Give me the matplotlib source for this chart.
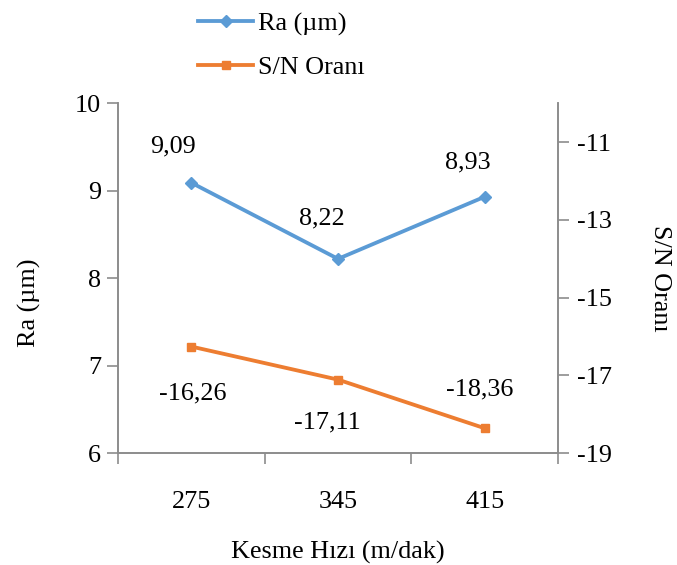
import matplotlib.pyplot as plt
import numpy as np

plt.rcParams['font.family'] = ['Liberation Serif', 'DejaVu Serif']
plt.rcParams['axes.unicode_minus'] = False

# Kesme hızı seviyeleri ve ölçülen değerler
hizlar = ['275', '345', '415']
ra = [9.09, 8.22, 8.93]
sn = [-16.26, -17.11, -18.36]
ra_etiket = ['9,09', '8,22', '8,93']
sn_etiket = ['-16,26', '-17,11', '-18,36']

# etiketlerin noktaya göre kayması (piksel)
ra_kayma = [(-18, 36), (-16, 40), (-17, 34)]
sn_kayma = [(1, -47), (-11, -43), (-5, 39)]

mavi = '#5B9BD5'
turuncu = '#ED7D31'
gri = '#8C8C8C'
fs = 18.8

fig = plt.figure(figsize=(6.77, 5.65), dpi=100)
ax = fig.add_axes([0.1743, 0.198, 0.6500, 0.6195])
ax2 = ax.twinx()

x = np.arange(len(hizlar))
l1, = ax.plot(x, ra, '-', color=mavi, lw=2.75, marker='D', ms=6, label='Ra (µm)')
l2, = ax2.plot(x, sn, '-', color=turuncu, lw=2.75, marker='s', ms=6, label='S/N Oranı')

for xi, v, t, k in zip(x, ra, ra_etiket, ra_kayma):
    ax.annotate(t, (xi, v), xytext=k, textcoords='offset pixels',
                ha='center', va='center', fontsize=fs)
for xi, v, t, k in zip(x, sn, sn_etiket, sn_kayma):
    ax2.annotate(t, (xi, v), xytext=k, textcoords='offset pixels',
                 ha='center', va='center', fontsize=fs)

ax.set_xlim(-0.5, 2.5)
ax.set_ylim(6, 10)
ax.set_yticks([6, 7, 8, 9, 10])
ax2.set_ylim(-19, -10)
ax2.set_yticks([-19, -17, -15, -13, -11])

ax.set_xticks(x)
ax.set_xticklabels(hizlar, fontsize=fs)
ax.set_xticks([-0.5, 0.5, 1.5, 2.5], minor=True)
ax.tick_params(axis='x', which='major', length=0, pad=27)
ax.tick_params(axis='x', which='minor', length=8, color=gri, width=1.2)
ax.tick_params(axis='y', length=8, color=gri, width=1.2, labelsize=fs, pad=4)
ax2.tick_params(axis='y', length=8, color=gri, width=1.2, labelsize=fs, pad=6)

for a in (ax, ax2):
    a.spines['top'].set_visible(False)
    for s in ('left', 'right', 'bottom'):
        a.spines[s].set_color(gri)
        a.spines[s].set_linewidth(1.2)

ax.set_xlabel('Kesme Hızı (m/dak)', fontsize=fs, labelpad=20)
ax.set_ylabel('Ra (µm)', fontsize=fs)
ax.yaxis.set_label_coords(-0.175, 0.43)
ax2.set_ylabel('S/N Oranı', fontsize=fs, rotation=-90, va='center')
ax2.yaxis.set_label_coords(1.232, 0.5)

fig.legend(handles=[l1, l2], loc='upper left', bbox_to_anchor=(0.258, 1.02),
           frameon=False, fontsize=fs, handlelength=2.1, labelspacing=0.75,
           handletextpad=0.2)

fig.savefig('out.png', dpi=100)
